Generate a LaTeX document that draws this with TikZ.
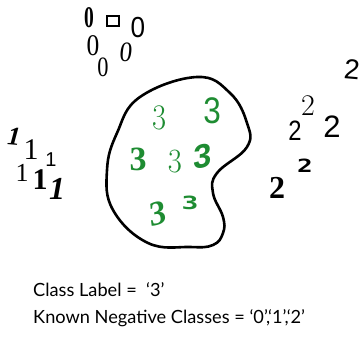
\documentclass[tikz,border=0pt]{standalone}
\usepackage{fontspec}
\setmainfont{Lato}
\newfontfamily\lmr{Latin Modern Roman}
\newfontfamily\lser{Liberation Serif}
\newfontfamily\lsans{Liberation Sans}
\newfontfamily\dmono{DejaVu Sans Mono}
\usetikzlibrary{shapes.geometric}
\definecolor{digitgreen}{RGB}{30,140,50}
\newcommand{\fs}[1]{\fontsize{#1}{#1}\selectfont}
\tikzset{
  dg/.style={inner sep=0pt, font=\lser\fs{#1}},
  dg/.default=32,
  gr/.style={text=digitgreen},
  lbl/.style={anchor=base west, inner sep=0pt, font=\fs{18.2}}
}
\begin{document}
\begin{tikzpicture}[x=1pt,y=-1pt]
\useasboundingbox (0,0) rectangle (363,339);
% blob
\draw[line width=2.6pt] plot[smooth cycle, tension=0.7] coordinates {
 (140,97) (197,77) (230,93) (247,123) (247,147) (217,173) (213,193)
 (223,217) (223,233) (213,245) (190,247) (148,243) (113,210) (107,170) (117,133)};
% zeros
\node[inner sep=0pt, font=\lser\bfseries\fs{30}, xscale=0.65] (z1) at (89,18) {0};
\node[draw, line width=2.4pt, minimum width=12pt, minimum height=10pt, inner sep=0pt] (z2) at (113,21) {};
\node[inner sep=0pt, font=\lsans\fs{29}, xscale=0.9] (z3) at (138,28) {0};
\node[dg=30, xscale=0.85] (z4) at (93,46) {0};
\node[dg=28, xscale=0.8] (z5) at (103,67) {0};
\node[dg=28, xslant=0.1, xscale=0.9] (z6) at (126,52) {0};
% ones
\node[inner sep=0pt, font=\lser\bfseries\itshape\fs{26}, rotate=-5] (o1) at (14,137) {1};
\node[inner sep=0pt, font=\lser\fs{30}] (o2) at (31,150) {1};
\node[inner sep=0pt, font=\lsans\fs{20}] (o3) at (51,160) {1};
\node[inner sep=0pt, font=\lser\fs{26}] (o4) at (22,173) {1};
\node[inner sep=0pt, font=\lser\bfseries\fs{30}] (o5) at (40,180) {1};
\node[inner sep=0pt, font=\lser\bfseries\itshape\fs{32}] (o6) at (57,189) {1};
% twos
\node[inner sep=0pt, font=\lsans\fs{28}, rotate=-5] (t1) at (352,69) {2};
\node[inner sep=0pt, font=\lmr\fs{30}] (t2) at (308,106) {2};
\node[inner sep=0pt, font=\lsans\fs{28}, xscale=0.85] (t3) at (295,131) {2};
\node[inner sep=0pt, font=\lsans\fs{31}] (t4) at (332,127) {2};
\node[inner sep=0pt, font=\dmono\bfseries\fs{26}, yscale=0.7] (t5) at (305,166) {2};
\node[inner sep=0pt, font=\lser\bfseries\fs{32}] (t6) at (277,188) {2};
% threes
\node[gr, inner sep=0pt, font=\lmr\fs{36}, xscale=0.85] (h1) at (160,118) {3};
\node[gr, inner sep=0pt, font=\lsans\fs{37}, xscale=0.85] (h2) at (212,111) {3};
\node[gr, inner sep=0pt, font=\lser\bfseries\fs{34}] (h3) at (138,159) {3};
\node[gr, inner sep=0pt, font=\lmr\fs{34}, xscale=0.9] (h4) at (175,162) {3};
\node[gr, inner sep=0pt, font=\lsans\bfseries\fs{33}, rotate=10, xslant=0.2] (h5) at (203,156) {3};
\node[gr, inner sep=0pt, font=\lser\bfseries\itshape\fs{34}, rotate=15] (h6) at (158,214) {3};
\node[gr, inner sep=0pt, font=\dmono\bfseries\fs{28}, yscale=0.65] (h7) at (190,203) {3};
% labels
\node[lbl] (l1) at (33,296) {Class Label =\ \ ‘3’};
\node[lbl] (l2) at (33,323) {Known Negative Classes = ‘0’,‘1’,‘2’};
\end{tikzpicture}
\end{document}
